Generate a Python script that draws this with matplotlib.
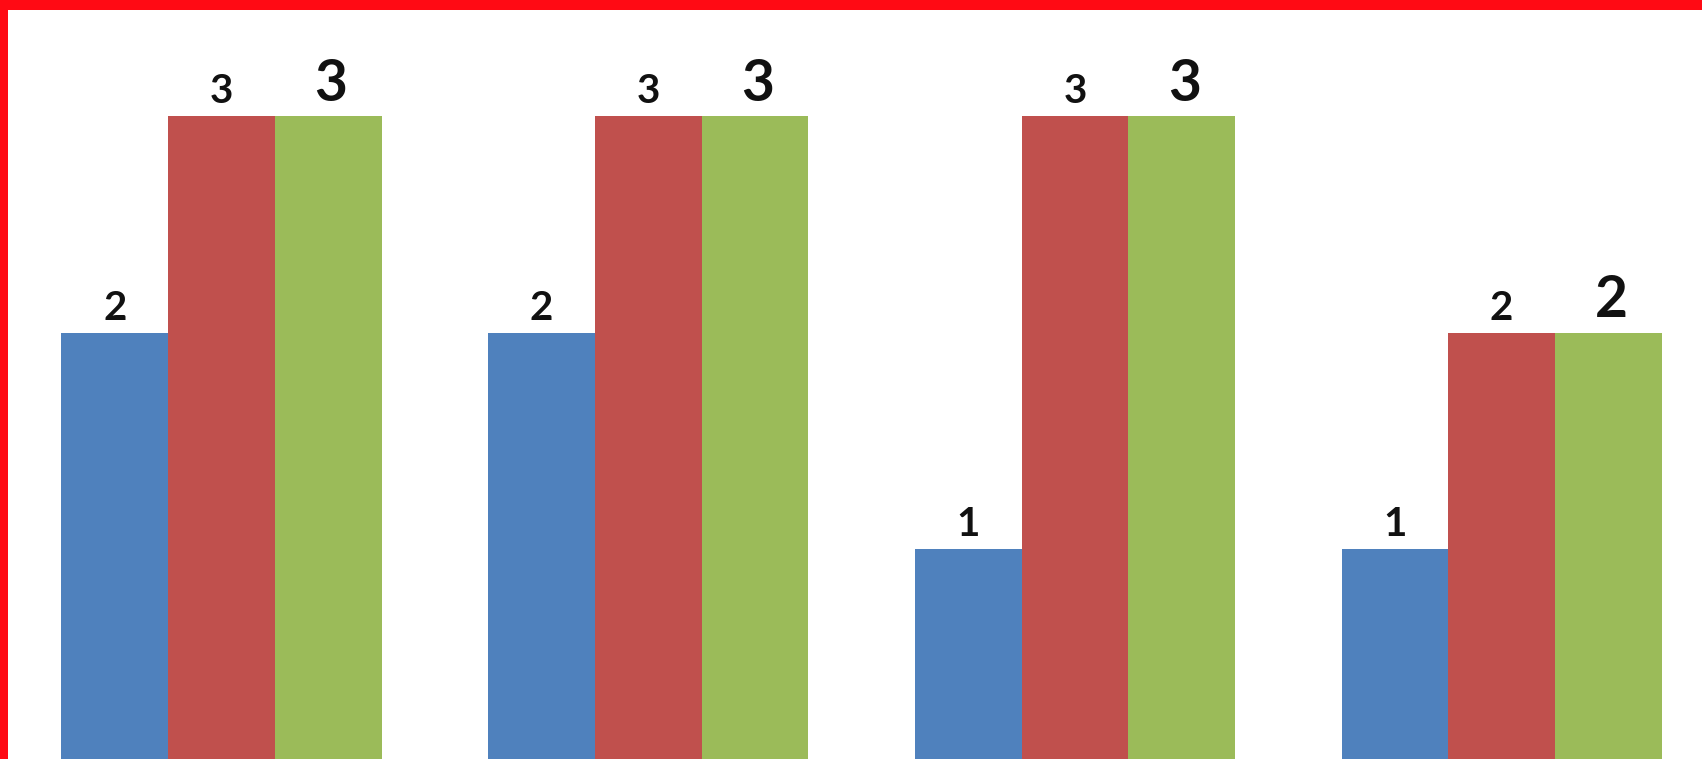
import matplotlib
matplotlib.use("Agg")
import matplotlib.pyplot as plt
import numpy as np
from matplotlib.patches import Rectangle

categories = ["A", "B", "C", "D"]
series1 = [2, 2, 1, 1]
series2 = [3, 3, 3, 2]
series3 = [3, 3, 3, 2]

colors = ["#4F81BD", "#C0504D", "#9BBB59"]
W, H = 1702, 759
fig = plt.figure(figsize=(W / 100, H / 100), dpi=100)
ax = fig.add_axes([0, 0, 1, 1])

x = np.arange(len(categories))
bw = 0.25
for i, (vals, c) in enumerate(zip([series1, series2, series3], colors)):
    vals = np.array(vals, dtype=float)
    ax.bar(x + (i - 1) * bw, vals, width=bw, color=c,
           edgecolor="none", linewidth=0)
    fs = 29 if i < 2 else 41
    off = 9.5 if i < 2 else 11
    for xi, v in zip(x + (i - 1) * bw, vals):
        ax.annotate(f"{int(v)}", (xi, v), xytext=(2 if i == 2 else 0, off),
                    textcoords="offset points",
                    ha="center", va="baseline", fontsize=fs,
                    fontweight="bold", family=["Lato", "DejaVu Sans"], color="#111111")

ax.set_xlim(-221.5 / 426.7, (W - 221.5) / 426.7)
ax.set_ylim(0.031, 3.537)
ax.axis("off")

# red decorative border (top and left)
fig.patches.append(Rectangle((0, 1 - 10 / H), 1, 10 / H, transform=fig.transFigure,
                             facecolor="#FF0A14", edgecolor="none", zorder=10))
fig.patches.append(Rectangle((0, 0), 8 / W, 1, transform=fig.transFigure,
                             facecolor="#FF0A14", edgecolor="none", zorder=10))

fig.savefig("out.png", dpi=100)
